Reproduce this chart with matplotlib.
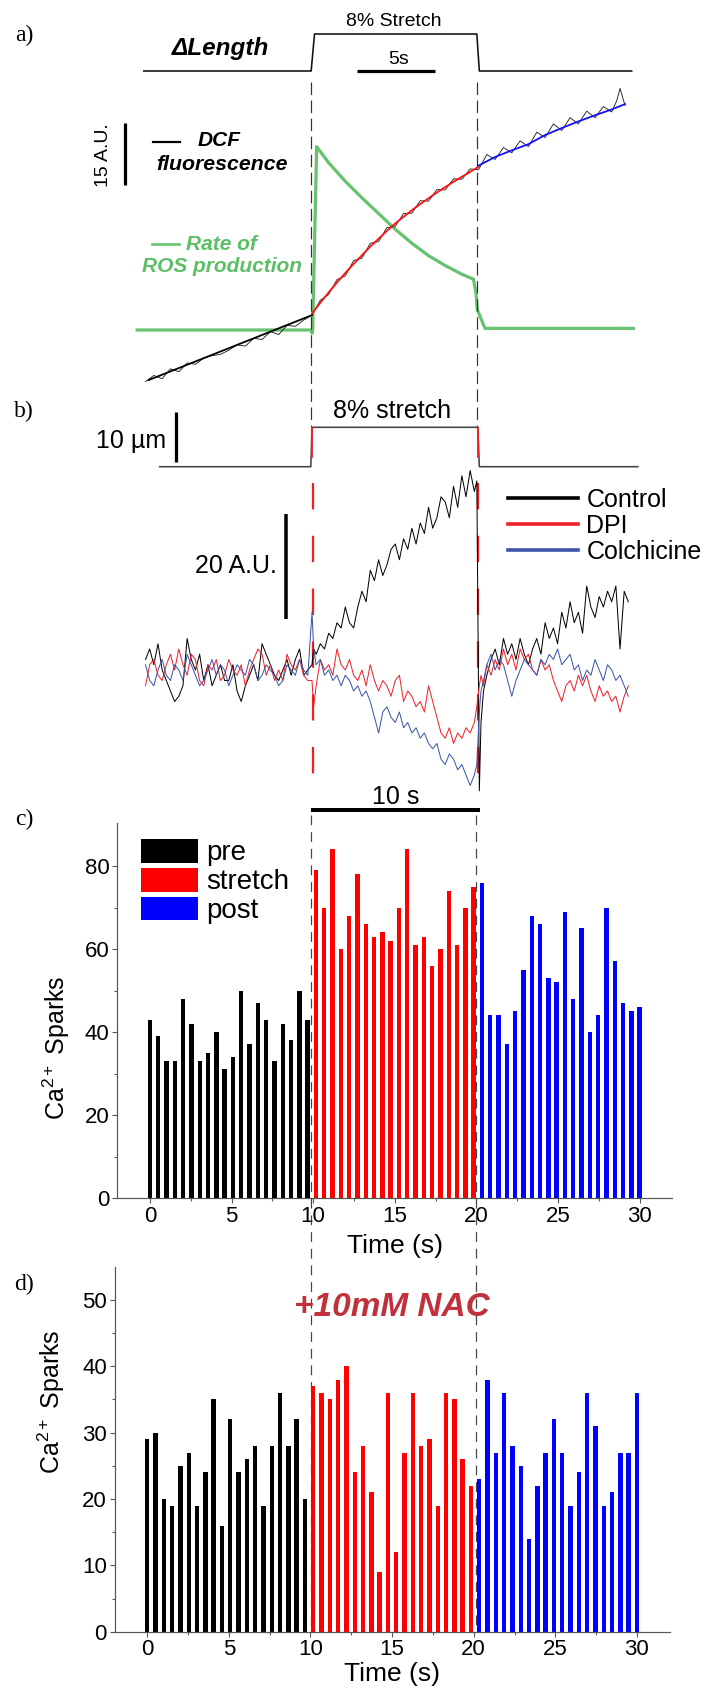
import numpy as np
import matplotlib
matplotlib.use('Agg')
import matplotlib.pyplot as plt
from matplotlib.lines import Line2D

plt.rcParams['font.family'] = ['Liberation Sans', 'DejaVu Sans']
plt.rcParams['mathtext.fontset'] = 'custom'
plt.rcParams['mathtext.rm'] = 'Liberation Sans'
plt.rcParams['mathtext.it'] = 'Liberation Sans:italic'
plt.rcParams['lines.scale_dashes'] = False

# ---------------- data ----------------
# panel a: cell length (% stretch) and DCF fluorescence (A.U.)
len_a_t = [-0.1, 9.95, 10.15, 19.9, 20.05, 29.2]
len_a_pct = [0, 0, 8, 8, 0, 0]

dcf_t = [0, 0.5, 1, 1.5, 2, 2.5, 3, 3.5, 4, 4.5, 5, 5.5, 6, 6.5, 7, 7.5, 8, 8.5, 9, 9.5,
         10, 10.5, 11, 11.5, 12, 12.5, 13, 13.5, 14, 14.5, 15, 15.5, 16, 16.5, 17, 17.5,
         18, 18.5, 19, 19.5, 20, 20.5, 21, 21.5, 22, 22.5, 23, 23.5, 24, 24.5, 25, 25.5,
         26, 26.5, 27, 27.5, 28, 28.3, 28.5, 28.8]
dcf_au = [-12.5, -11.0, -11.8, -9.4, -10.1, -8.0, -8.3, -6.8, -6.2, -5.9, -4.9, -3.6, -3.9, -2.0,
          -2.3, -0.4, -1.1, 1.1, 0.9, 2.4,
          3.6, 7.2, 8.6, 12.2, 13.1, 16.8, 17.4, 21.0, 21.4, 24.8, 25.1, 28.2, 28.3, 31.3, 31.2,
          34.0, 33.9, 36.6, 36.5, 39.0, 38.8, 42.5, 41.3, 44.2, 42.9, 45.8, 44.4, 47.9, 46.6,
          49.9, 48.3, 51.4, 49.9, 53.0, 51.4, 54.1, 52.8, 55.5, 58.5, 54.4]

fit_pre_t = [0.2, 10]
fit_pre_au = [-12.1, 3.6]
fit_str_t = [10, 10.5, 11, 11.5, 12, 12.5, 13, 13.5, 14, 14.5, 15, 15.5, 16, 16.5, 17,
             17.5, 18, 18.5, 19, 19.5, 20]
fit_str_au = [4.0, 6.6, 9.1, 11.5, 13.8, 16.0, 18.1, 20.2, 22.1, 24.0, 25.8, 27.4, 29.0,
              30.5, 31.9, 33.3, 34.6, 35.9, 37.1, 38.3, 39.5]
fit_post_t = [20, 21, 22, 23, 24, 25, 26, 27, 28, 28.8]
fit_post_au = [39.8, 41.9, 43.5, 45.0, 47.2, 48.9, 50.5, 52.0, 53.4, 54.7]

ros_t = [-0.5, 9.95, 10.0, 10.04, 10.28, 11, 12, 13, 14, 15, 16, 17, 18, 19, 19.7,
         19.85, 19.93, 20.39, 29.3]
ros_val = [0, 0, -0.8, 0, 44.4, 40.5, 36.0, 32.0, 28.2, 24.4, 21.0, 18.0, 15.6, 13.5, 12.3,
           8.9, 4.9, 0.4, 0.4]

# panel b: cell length and DCF traces (A.U.)
len_b_t = [0.85, 9.93, 10.0, 19.96, 20.05, 29.57]
len_b_pct = [0, 0, 8, 8, 0, 0]

tb = np.concatenate([np.arange(0, 10, 0.25), [10, 10.1], np.arange(10.25, 19.8, 0.25),
                     [19.9, 20.05, 20.15, 20.3], np.arange(20.5, 29.1, 0.25)])
control = [2, 4, 1, 5, 0, -2, -4, -6, -5, -3, 6, 2, 0, 3, -2, 1, -3, -1, 1, -2,
           -2, 1, -4, -6, -3, -1, 1, -2, 5, 3, 1, -1, -2, 0, 2, -1, 2, 4, -1, 0,
           1, 4,
           3, 5, 4, 7, 6, 9, 8, 12, 9, 8, 12, 15, 13, 19, 17, 21, 18, 20, 23, 24,
           21, 25, 23, 27, 24, 28, 26, 31, 27, 29, 33, 32, 29, 35, 31, 37, 33, 38, 34,
           36, -23, -10, -4,
           -1, 2, 4, 1, 6, 3, 5, 2, 6, 3, 1, 4, 6, 3, 9, 6, 8, 5, 11, 8,
           13, 9, 11, 7, 16, 12, 10, 14, 12, 15, 13, 16, 4, 15, 13]
dpi = [-3, 1, 2, -1, -2, 1, 3, 0, 4, 1, -1, 3, 2, -2, -3, 1, 0, 2, -2, -1,
       2, 0, -1, 1, -3, 0, 2, 4, 3, -1, 1, -2, 0, -2, 3, 1, 0, 2, -1, -2,
       -2, -7,
       -3, 2, 0, 1, -1, 4, 1, 0, 2, -1, -2, 0, -3, 1, -2, -4, -2, -3, -5, -2,
       -1, -6, -4, -5, -7, -6, -8, -3, -6, -9, -12, -13, -11, -14, -12, -13, -11, -12, -10,
       -7, -3, -1, -3,
       1, -1, 2, 0, 4, 1, 3, 0, 4, 2, 3, 0, -1, 2, 0, 1, -2, -4, -6, -3,
       -2, -4, -1, -3, -1, -4, -6, -3, -5, -4, -6, -5, -8, -5, -3]
colch = [1, -2, -3, 0, 2, -1, -2, 1, 0, -2, 3, 1, -1, -3, -2, 0, 2, -1, 1, 0,
         -3, -1, 1, 0, -1, 2, 1, -2, -1, 1, 0, -1, -3, -2, 1, 0, -1, 2, 0, -1,
         11, 4,
         1, 2, -1, 0, -2, -1, -3, -1, -2, -4, -3, -5, -4, -6, -9, -12, -8, -7, -9, -10,
         -8, -11, -10, -12, -11, -13, -12, -14, -15, -14, -17, -18, -16, -17, -19, -18, -20,
         -22, -20,
         -18, -8, -4, -2,
         1, 3, 0, 2, 1, -2, -5, -2, 0, 2, 1, 0, -1, 2, 1, 3, 2, 4, 1, 2,
         3, 0, 1, -2, 0, -1, 2, 0, -2, 1, 0, -2, -1, -3, -5]

# panels c/d: Ca2+ spark counts per time bin
t_bins = np.linspace(0, 30, 60)
c_pre = [43, 39, 33, 33, 48, 42, 33, 35, 40, 31, 34, 50, 37, 47, 43, 33, 42, 38, 50, 43]
c_str = [79, 70, 84, 60, 68, 78, 66, 63, 64, 62, 70, 84, 61, 63, 56, 60, 74, 61, 70, 75]
c_post = [76, 44, 44, 37, 45, 55, 68, 66, 53, 52, 69, 48, 65, 40, 44, 70, 57, 47, 45, 46]
d_pre = [29, 30, 20, 19, 25, 27, 19, 24, 35, 16, 32, 24, 26, 28, 19, 28, 36, 28, 32, 20]
d_str = [37, 36, 35, 38, 40, 24, 28, 21, 9, 36, 12, 27, 36, 28, 29, 19, 36, 35, 26, 22]
d_post = [23, 38, 27, 36, 28, 25, 14, 22, 27, 32, 27, 19, 24, 36, 31, 19, 21, 27, 27, 36]

groups = ['pre', 'stretch', 'post']
bar_colors = ['#000000', '#ff0000', '#0000ff']

# ---------------- layout helpers ----------------
W, H = 715, 1695
fig = plt.figure(figsize=(W / 100, H / 100), dpi=100)
PT = 72 / 100  # points per pixel


def px_axes(x0, y0, x1, y1, xlim, ylim):
    ax = fig.add_axes([x0 / W, 1 - y1 / H, (x1 - x0) / W, (y1 - y0) / H])
    ax.set_xlim(*xlim)
    ax.set_ylim(*ylim)
    ax.patch.set_alpha(0)
    return ax


def ftext(x, y, s, **kw):
    kw.setdefault('ha', 'center')
    kw.setdefault('va', 'center')
    return fig.text(x / W, 1 - y / H, s, **kw)


def fline(x0, y0, x1, y1, **kw):
    fig.add_artist(Line2D([x0 / W, x1 / W], [1 - y0 / H, 1 - y1 / H], **kw))


def tmap(px):  # time axis of panels a, b
    return 10 + (px - 312) / 16.65


TL = (tmap(90), tmap(700))

# ---------------- panel a ----------------
pct_a = lambda py: (71 - py) / 4.625
au_a = lambda py: (330 - py) / 4.13
aL = px_axes(90, 15, 700, 85, TL, (pct_a(85), pct_a(15)))
aL.axis('off')
aL.plot(len_a_t, len_a_pct, color='#111111', lw=1.6 * PT, clip_on=False)
aL.plot([tmap(357), tmap(434.6)], [pct_a(70.7)] * 2, color='black', lw=3.2 * PT,
        solid_capstyle='butt', clip_on=False)

aD = px_axes(90, 80, 700, 440, TL, (au_a(440), au_a(80)))
aD.axis('off')
aD.plot(ros_t, ros_val, color='#66c26e', lw=3.2 * PT, clip_on=False, zorder=2)
aD.plot(dcf_t, dcf_au, color='#222222', lw=0.9 * PT, clip_on=False, zorder=3)
aD.plot(fit_pre_t, fit_pre_au, color='black', lw=1.8 * PT, zorder=4)
aD.plot(fit_str_t, fit_str_au, color='#ff1010', lw=1.8 * PT, zorder=4)
aD.plot(fit_post_t, fit_post_au, color='#1010ff', lw=1.8 * PT, zorder=4)
for tv in (tmap(311.4), tmap(477.4)):
    aD.plot([tv, tv], [au_a(82), au_a(427)], color='#333333', lw=1.2 * PT,
            dashes=(9, 4), clip_on=False)
# 15 A.U. scale bar
aD.plot([tmap(125.4)] * 2, [35.1, 50.1], color='black', lw=3.2 * PT,
        solid_capstyle='butt', clip_on=False)

ftext(24, 35, 'a)', fontsize=17, family='Liberation Serif')
ftext(394, 21, '8% Stretch', fontsize=14)
ftext(220, 48, 'ΔLength', fontsize=17.5, fontweight='bold', style='italic')
ftext(399, 59, '5s', fontsize=14)
ftext(104, 155, '15 A.U.', fontsize=14, rotation=90)
fline(152.8, 141.7, 180, 141.7, color='black', lw=2.2 * PT)
ftext(198, 141, 'DCF', fontsize=15, fontweight='bold', style='italic', ha='left')
ftext(156, 165, 'fluorescence', fontsize=15.3, fontweight='bold', style='italic', ha='left')
fline(152, 244, 179, 244, color='#66c26e', lw=2.6 * PT)
ftext(186, 244, 'Rate of', fontsize=15, fontweight='bold', style='italic', ha='left',
      color='#5cbf66')
ftext(142, 266, 'ROS production', fontsize=15, fontweight='bold', style='italic',
      ha='left', color='#5cbf66')

# ---------------- panel b ----------------
pct_b = lambda py: (466.7 - py) / 4.925
au_b = lambda py: (670 - py) / 5.25
bL = px_axes(90, 400, 700, 480, TL, (pct_b(480), pct_b(400)))
bL.axis('off')
bL.plot(len_b_t, len_b_pct, color='#444444', lw=1.6 * PT, clip_on=False)
bL.plot([10.0, 10.0], [2.0, 7.8], color='#ff1a1a', lw=1.8 * PT, clip_on=False)
bL.plot([19.99, 19.99], [2.0, 7.8], color='#ff1a1a', lw=1.8 * PT, clip_on=False)
# 10 um scale bar
bL.plot([tmap(176.5)] * 2, [pct_b(461.7), pct_b(411.7)], color='black', lw=3.2 * PT,
        solid_capstyle='butt', clip_on=False)

bT = px_axes(90, 470, 700, 830, TL, (au_b(830), au_b(470)))
bT.axis('off')
for tv in (tmap(312.7), tmap(478.3)):
    bT.plot([tv, tv], [au_b(483), au_b(778)], color='#ee2020', lw=2.2 * PT,
            dashes=(19, 19), clip_on=False, zorder=1)
bT.plot(tb, control, color='black', lw=1.0 * PT, zorder=3, label='Control')
bT.plot(tb, dpi, color='#ee2028', lw=1.0 * PT, zorder=4, label='DPI')
bT.plot(tb, colch, color='#3a55aa', lw=1.0 * PT, zorder=5, label='Colchicine')
# 20 A.U. and 10 s scale bars
bT.plot([tmap(286)] * 2, [au_b(619.3), au_b(514.3)], color='black', lw=3.5 * PT,
        solid_capstyle='butt', clip_on=False)
bT.plot([tmap(311.4), tmap(480)], [au_b(810)] * 2, color='black', lw=4 * PT,
        solid_capstyle='butt', clip_on=False)

hb = [Line2D([], [], color=c, lw=3.6 * PT) for c in ('black', '#ee2028', '#3a55aa')]
fig.legend(hb, ['Control', 'DPI', 'Colchicine'], loc='upper left',
           bbox_to_anchor=(508 / W, 1 - 488 / H), bbox_transform=fig.transFigure,
           frameon=False, fontsize=18, handlelength=2.8, handletextpad=0.33,
           labelspacing=0.08, borderpad=0, borderaxespad=0)

ftext(24, 411, 'b)', fontsize=17, family='Liberation Serif')
ftext(392, 411, '8% stretch', fontsize=18)
ftext(166, 441, '10 µm', fontsize=18, ha='right')
ftext(277, 566, '20 A.U.', fontsize=18, ha='right')
ftext(396, 797, '10 s', fontsize=18)


# ---------------- panels c, d ----------------
def bar_panel(ax, vals, ymax, major, minor, labelpad):
    n = len(vals[0])
    for k, (v, col, g) in enumerate(zip(vals, bar_colors, groups)):
        ax.bar(t_bins[k * n:(k + 1) * n], v, width=0.27, color=col, edgecolor='none',
               label=g, zorder=2)
    for s in ('top', 'right'):
        ax.spines[s].set_visible(False)
    for s in ('left', 'bottom'):
        ax.spines[s].set_color('#555555')
        ax.spines[s].set_linewidth(1.2 * PT)
    ax.set_xticks([0, 5, 10, 15, 20, 25, 30])
    ax.set_xticks(np.arange(2.5, 30, 5), minor=True)
    ax.set_yticks(np.arange(0, ymax + 0.1, major))
    ax.set_yticks(np.arange(minor, ymax + 0.6, major), minor=True)
    ax.tick_params(which='major', direction='out', length=5 * PT, width=1.1 * PT,
                   color='#555555', labelsize=16, pad=2)
    ax.tick_params(which='minor', direction='out', length=3 * PT, width=1.1 * PT,
                   color='#555555')
    ax.set_xlabel('Time (s)', fontsize=19, labelpad=labelpad)
    ax.set_ylabel(r'Ca$^{\mathregular{2+}}$ Sparks', fontsize=18)


axc = px_axes(117.3, 823.3, 672.3, 1198, (-2, 32), (0, 90.3))
bar_panel(axc, [c_pre, c_str, c_post], 80, 20, 10, 5)
axc.yaxis.set_label_coords(-0.082, 0.40)
axc.legend(loc='upper left', bbox_to_anchor=(0.042, 0.958), frameon=False, fontsize=20,
           handlelength=2.07, handleheight=0.94, handletextpad=0.3, labelspacing=0.05,
           borderpad=0, borderaxespad=0)
for tv in (9.84, 20.0):
    axc.plot([tv, tv], [92.3, -104.5], color='#444444', lw=1.2 * PT, dashes=(7, 5),
             clip_on=False, zorder=5)

axd = px_axes(114.6, 1266.7, 669.6, 1631.7, (-2, 32), (0, 55))
bar_panel(axd, [d_pre, d_str, d_post], 50, 10, 5, 1)
axd.yaxis.set_label_coords(-0.086, 0.63)

ftext(24, 819, 'c)', fontsize=17, family='Liberation Serif')
ftext(24, 1284, 'd)', fontsize=17, family='Liberation Serif')
ftext(392, 1307, '+10mM NAC', fontsize=24, fontweight='bold', style='italic',
      color='#c1313c')

fig.savefig('out.png', dpi=100)
